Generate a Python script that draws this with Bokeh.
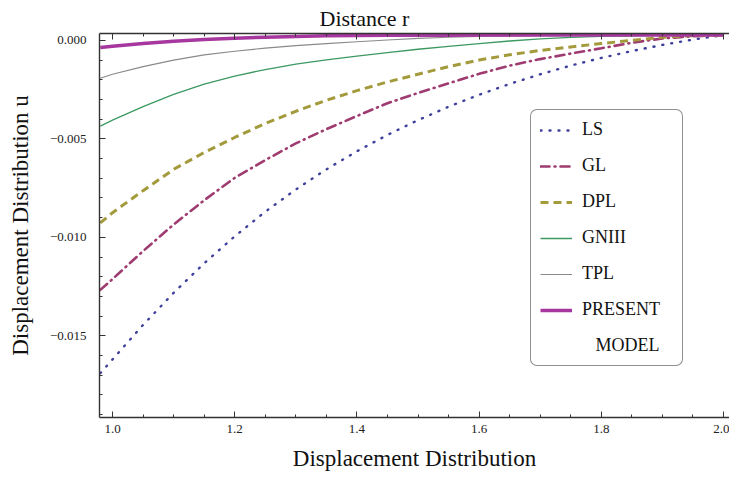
from bokeh.plotting import figure
from bokeh.models import Legend, LegendItem, FixedTicker, LinearAxis, Range1d
from bokeh.embed import file_html
from bokeh.resources import INLINE

# ---- data ----
r_vals = [0.98, 1.00, 1.05, 1.10, 1.15, 1.20, 1.25, 1.30, 1.35, 1.40, 1.45,
          1.50, 1.55, 1.60, 1.65, 1.70, 1.75, 1.80, 1.85, 1.90, 1.95, 2.00]
ls_vals = [-0.0169, -0.0162, -0.01445, -0.01282, -0.01132, -0.00995, -0.0087, -0.00757,
           -0.00655, -0.00563, -0.0048, -0.00405, -0.00337, -0.00276, -0.00221, -0.00172,
           -0.00128, -0.00089, -0.00054, -0.00023, 0.00004, 0.00027]
gl_vals = [-0.01267, -0.01212, -0.0107, -0.00935, -0.00812, -0.00698, -0.00608, -0.00523,
           -0.00451, -0.00384, -0.00319, -0.00267, -0.00218, -0.0017, -0.00128, -0.00095,
           -0.00067, -0.0004, -0.00012, 0.0001, 0.00021, 0.00027]
dpl_vals = [-0.00927, -0.00875, -0.00763, -0.00655, -0.00569, -0.00493, -0.00422, -0.0036,
            -0.00304, -0.00255, -0.00211, -0.00172, -0.00133, -0.001, -0.00073, -0.00051,
            -0.00033, -0.00016, 0.0, 0.00016, 0.00024, 0.00027]
gniii_vals = [-0.00435, -0.00405, -0.00336, -0.00274, -0.00222, -0.00181, -0.00148, -0.00121,
              -0.00099, -0.0008, -0.00062, -0.00045, -0.0003, -0.00016, -0.00003, 0.00008,
              0.00015, 0.0002, 0.00023, 0.00025, 0.00026, 0.00027]
tpl_vals = [-0.00192, -0.00172, -0.00133, -0.001, -0.00074, -0.00055, -0.00039, -0.00027,
            -0.00016, -0.00007, 0.00002, 0.0001, 0.00016, 0.0002, 0.00022, 0.00024,
            0.00025, 0.00026, 0.00026, 0.00027, 0.00027, 0.00027]
present_vals = [-0.00036, -0.0003, -0.00016, -0.00004, 0.00005, 0.00011, 0.00016, 0.0002,
                0.00023, 0.00025, 0.00026, 0.00026, 0.00026, 0.00027, 0.00027, 0.00027,
                0.00027, 0.00027, 0.00027, 0.00027, 0.00027, 0.00027]

series_names = ["LS", "GL", "DPL", "GNIII", "TPL", "PRESENT"]
x_ticks = [1.0, 1.2, 1.4, 1.6, 1.8, 2.0]
x_tick_labels = ["1.0", "1.2", "1.4", "1.6", "1.8", "2.0"]
x_minor = [0.95, 1.05, 1.1, 1.15, 1.25, 1.3, 1.35, 1.45, 1.5, 1.55, 1.65, 1.7, 1.75,
           1.85, 1.9, 1.95]
y_ticks = [-0.015, -0.010, -0.005, 0.0]
y_tick_labels = ["\u22120.015", "\u22120.010", "\u22120.005", "0.000"]
y_minor = [-0.019, -0.018, -0.017, -0.016, -0.014, -0.013, -0.012, -0.011, -0.009,
           -0.008, -0.007, -0.006, -0.004, -0.003, -0.002, -0.001]

SERIF = "Liberation Serif"

p = figure(width=729, height=477, output_backend="svg", toolbar_location=None,
           x_range=Range1d(0.9787, 2.0098), y_range=Range1d(-0.01915, 0.00035),
           min_border_left=99, min_border_right=0, min_border_top=0,
           min_border_bottom=60, x_axis_label="Displacement Distribution",
           y_axis_label="Displacement Distribution u")
p.outline_line_color = None
p.grid.visible = False
p.background_fill_color = "white"
p.border_fill_color = "white"

bottom_axis = p.below[0]
left_axis = p.left[0]

p.title.text = "Distance r"
p.title.text_font = SERIF
p.title.text_font_size = "22px"
p.title.text_font_style = "normal"
p.title.text_color = "#111111"
p.title.align = "left"
p.title.offset = 220
p.title.standoff = 6

xt = FixedTicker(ticks=x_ticks, minor_ticks=x_minor)
yt = FixedTicker(ticks=y_ticks, minor_ticks=y_minor)

top_axis = LinearAxis(ticker=xt, major_label_text_font_size="0px",
                      major_label_text_alpha=0, major_label_standoff=0)
p.add_layout(top_axis, "above")

for ax in [bottom_axis, left_axis, top_axis]:
    ax.axis_line_color = "#333333"
    ax.axis_line_width = 1.4
    ax.major_tick_line_color = "#333333"
    ax.minor_tick_line_color = "#333333"
    ax.major_tick_in = 6
    ax.major_tick_out = 0
    ax.minor_tick_in = 3
    ax.minor_tick_out = 0
    ax.major_label_text_font = SERIF
    ax.major_label_text_color = "#222222"
    ax.axis_label_text_font = SERIF
    ax.axis_label_text_font_size = "23px"
    ax.axis_label_text_font_style = "normal"
    ax.axis_label_text_color = "#111111"

bottom_axis.ticker = xt
left_axis.ticker = yt
bottom_axis.major_label_overrides = dict(zip(x_ticks, x_tick_labels))
left_axis.major_label_overrides = dict(zip(y_ticks, y_tick_labels))
bottom_axis.major_label_text_font_size = "13px"
left_axis.major_label_text_font_size = "13px"
bottom_axis.major_label_standoff = 7
left_axis.major_label_standoff = 13
bottom_axis.axis_label_standoff = 10
left_axis.axis_label_standoff = 14

r_ls = p.line(r_vals, ls_vals, line_color="#3f3f9c", line_width=2.4,
              line_dash="1 8", line_cap="round")
r_gl = p.line(r_vals, gl_vals, line_color="#9e3b70", line_width=2.6,
              line_dash="9 5 1 5", line_cap="round")
r_dpl = p.line(r_vals, dpl_vals, line_color="#a39a3c", line_width=3.0,
               line_dash="8 5")
r_gn = p.line(r_vals, gniii_vals, line_color="#3d9962", line_width=1.3)
r_tpl = p.line(r_vals, tpl_vals, line_color="#8a8a8a", line_width=1.2)
r_pr = p.line(r_vals, present_vals, line_color="#a6379e", line_width=3.5)
r_dummy = p.line(r_vals, present_vals, line_alpha=0)

items = [LegendItem(label=n, renderers=[r]) for n, r in
         zip(series_names, [r_ls, r_gl, r_dpl, r_gn, r_tpl, r_pr])]
items.append(LegendItem(label="\u00a0\u00a0\u00a0MODEL\u00a0\u00a0\u00a0", renderers=[r_dummy]))

legend = Legend(items=items, location=(431, 51), margin=0, padding=9,
                spacing=15, label_height=18, glyph_height=18, glyph_width=32,
                label_standoff=10, label_text_font=SERIF, label_text_font_size="18px",
                label_text_color="#111111", border_line_color="#222222",
                border_line_width=1.3, background_fill_color="white",
                background_fill_alpha=1.0, border_radius=7)
p.add_layout(legend)

open("out.html", "w").write(file_html(p, INLINE))
